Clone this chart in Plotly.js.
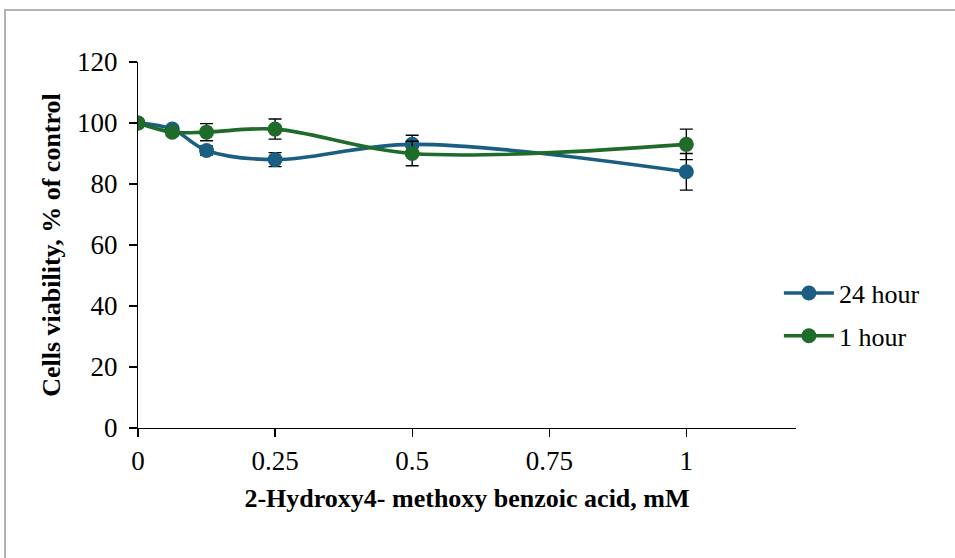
<!DOCTYPE html>
<html>
<head>
<meta charset="utf-8">
<script src="https://cdn.plot.ly/plotly-3.0.1.min.js"></script>
<style>
html,body{margin:0;padding:0;background:#fff;overflow:hidden;}
#chart{width:955px;height:558px;position:absolute;left:0;top:0;}
#frame{position:absolute;left:4px;top:9px;width:1000px;height:600px;border:2px solid #b3b3b3;pointer-events:none;box-sizing:border-box;}
</style>
</head>
<body>
<div id="chart"></div>
<div id="frame"></div>
<script>
const concentration = [0, 0.0625, 0.125, 0.25, 0.5, 1];
const viability24h = [100, 98, 91, 88, 93, 84];
const error24h = [0.5, 1, 1.5, 2.3, 3, 6];
const viability1h = [100, 97, 97, 98, 90, 93];
const error1h = [0.5, 1.2, 2.8, 3.3, 4, 5];
const seriesNames = ['24 hour', '1 hour'];
const xTicks = [0, 0.25, 0.5, 0.75, 1];
const xTickText = ['0', '0.25', '0.5', '0.75', '1'];
const yTicks = [0, 20, 40, 60, 80, 100, 120];

const serif = 'Liberation Serif, Times New Roman, serif';
const blue = '#1a5e82';
const green = '#1e6b2a';

function series(name, y, err, color, group) {
  return {
    x: concentration, y: y, name: name, type: 'scatter', mode: 'lines+markers',
    legendgroup: group,
    line: {color: color, width: 3.6, shape: 'spline', smoothing: 1},
    marker: {color: color, size: 15},
    error_y: {type: 'data', array: err, visible: true, color: '#000', thickness: 1.4, width: 6.5}
  };
}

const data = [
  series(seriesNames[0], viability24h, error24h, blue, 'g1'),
  series(seriesNames[1], viability1h, error1h, green, 'g2')
];

const layout = {
  width: 955, height: 558,
  margin: {l: 138, r: 159.4, t: 62, b: 130},
  paper_bgcolor: '#fff', plot_bgcolor: '#fff',
  font: {family: serif, size: 26, color: '#000'},
  showlegend: true,
  legend: {x: 0.974, xanchor: 'left', y: 0.31, yanchor: 'middle', traceorder: 'grouped', tracegroupgap: 6,
           font: {family: serif, size: 26, color: '#000'}, itemwidth: 50, bgcolor: 'rgba(0,0,0,0)'},
  xaxis: {
    range: [0, 1.2], tickvals: xTicks, ticktext: xTickText,
    showline: true, linecolor: '#000', linewidth: 1.2,
    ticks: 'outside', ticklen: 8, tickcolor: '#000', tickwidth: 1.2,
    showgrid: false, zeroline: false,
    tickfont: {family: serif, size: 27, color: '#000'},
    title: {text: '<b>2-Hydroxy4- methoxy benzoic acid, mM</b>', font: {family: serif, size: 26, color: '#000'}, standoff: 14}
  },
  yaxis: {
    range: [0, 120], tickvals: yTicks,
    showline: true, linecolor: '#000', linewidth: 1.2,
    ticks: 'outside', ticklen: 8, tickcolor: '#000', tickwidth: 1.2,
    ticklabelstandoff: 6,
    showgrid: false, zeroline: false,
    tickfont: {family: serif, size: 27, color: '#000'},
    title: {text: '<b>Cells viability, % of control</b>', font: {family: serif, size: 26, color: '#000'}, standoff: 8}
  }
};

Plotly.newPlot('chart', data, layout, {displayModeBar: false, staticPlot: true});
</script>
</body>
</html>
